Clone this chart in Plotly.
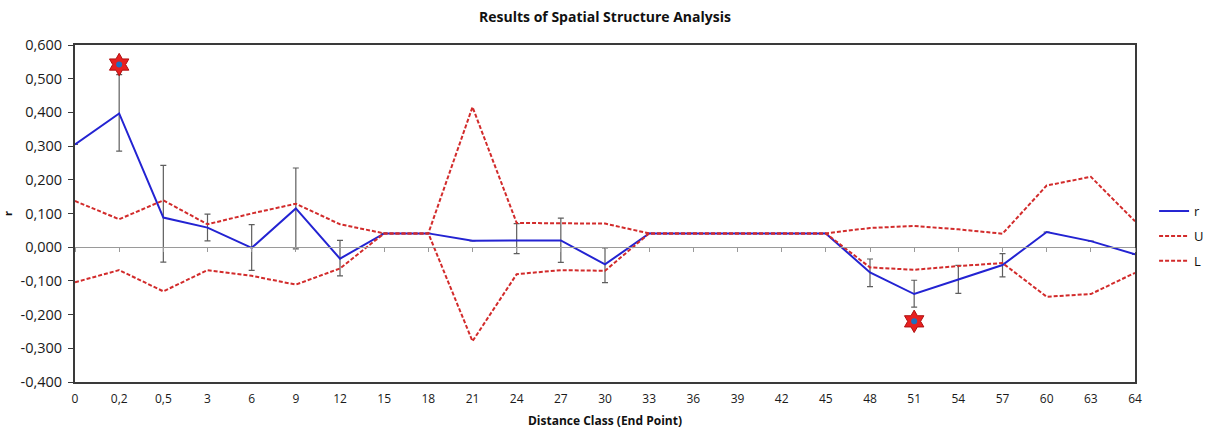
import plotly.graph_objects as go

# Distance classes (end points) along the x axis
distance_classes = ["0", "0,2", "0,5", "3", "6", "9", "12", "15", "18", "21", "24", "27",
                    "30", "33", "36", "39", "42", "45", "48", "51", "54", "57", "60", "63", "64"]

# Correlation coefficient r per distance class
r_values = [0.305, 0.397, 0.088, 0.058, -0.002, 0.115, -0.034, 0.041, 0.041, 0.019, 0.020, 0.020,
            -0.051, 0.041, 0.041, 0.041, 0.041, 0.041, -0.075, -0.139, -0.096, -0.053, 0.045, 0.018, -0.021]

# Upper (U) and lower (L) confidence limits
u_values = [0.137, 0.083, 0.139, 0.068, 0.100, 0.129, 0.068, 0.041, 0.041, 0.416, 0.072, 0.072,
            0.070, 0.041, 0.041, 0.041, 0.041, 0.041, 0.057, 0.063, 0.053, 0.040, 0.183, 0.209, 0.077]
l_values = [-0.104, -0.068, -0.131, -0.068, -0.085, -0.111, -0.063, 0.041, 0.041, -0.279, -0.080, -0.068,
            -0.070, 0.041, 0.041, 0.041, 0.041, 0.041, -0.060, -0.067, -0.056, -0.047, -0.147, -0.139, -0.076]

# Bootstrap error bounds around r (None where no bar is drawn)
err_high = [None, 0.512, 0.243, 0.098, 0.067, 0.235, 0.020, None, None, None, 0.070, 0.086,
            -0.002, None, None, None, None, None, -0.035, -0.098, -0.054, -0.019, None, None, None]
err_low = [None, 0.285, -0.044, 0.019, -0.069, -0.005, -0.085, None, None, None, -0.019, -0.045,
           -0.105, None, None, None, None, None, -0.117, -0.178, -0.137, -0.088, None, None, None]

# Significance markers
sig_values = [None, 0.542, None, None, None, None, None, None, None, None, None, None,
              None, None, None, None, None, None, None, -0.220, None, None, None, None, None]

# Y axis ticks
y_tick_values = [-0.4, -0.3, -0.2, -0.1, 0.0, 0.1, 0.2, 0.3, 0.4, 0.5, 0.6]
y_tick_labels = ["-0,400", "-0,300", "-0,200", "-0,100", "0,000", "0,100",
                 "0,200", "0,300", "0,400", "0,500", "0,600"]

Y_MIN, Y_MAX = -0.4, 0.6

err_plus = [None if h is None else h - r for h, r in zip(err_high, r_values)]
err_minus = [None if lo is None else r - lo for lo, r in zip(err_low, r_values)]

FONT = "Open Sans"
RED = "#D22B2B"

fig = go.Figure()

fig.add_trace(go.Scatter(
    x=distance_classes, y=r_values, name="r", mode="lines",
    line=dict(color="#2323D2", width=2),
    error_y=dict(type="data", symmetric=False, array=err_plus, arrayminus=err_minus,
                 color="#5E5E5E", thickness=1.2, width=3),
    legendgroup="r",
))
fig.add_trace(go.Scatter(
    x=distance_classes, y=u_values, name="U", mode="lines",
    line=dict(color=RED, width=2, dash="4px,2px"), legendgroup="U",
))
fig.add_trace(go.Scatter(
    x=distance_classes, y=l_values, name="L", mode="lines",
    line=dict(color=RED, width=2, dash="4px,2px"), legendgroup="L",
))

# Significance stars: red star with a blue centre
fig.add_trace(go.Scatter(
    x=distance_classes, y=sig_values, mode="markers", showlegend=False, hoverinfo="skip",
    marker=dict(symbol="hexagram", size=17, color="#E82020", line=dict(color="#B01010", width=1)),
))
fig.add_trace(go.Scatter(
    x=distance_classes, y=sig_values, mode="markers", showlegend=False, hoverinfo="skip",
    marker=dict(symbol="circle", size=6, color="#1E6FC0"),
))

# Helper trace that carries the axis drawn through y = 0
fig.add_trace(go.Scatter(
    x=distance_classes, y=[None] * len(distance_classes), xaxis="x2",
    showlegend=False, hoverinfo="skip", mode="lines",
))

zero_pos = (0 - Y_MIN) / (Y_MAX - Y_MIN)

fig.update_layout(
    width=1210, height=430,
    margin=dict(l=75, r=75, t=45, b=48, autoexpand=False),
    paper_bgcolor="white", plot_bgcolor="white",
    separators=",.",
    font=dict(family=FONT, size=12, color="#1A1A1A"),
    title=dict(text="<b>Results of Spatial Structure Analysis</b>", x=0.5, xanchor="center",
               y=1 - 17 / 430, yanchor="middle", font=dict(family=FONT, size=14, color="#111")),
    showlegend=True,
    legend=dict(x=1.018, xanchor="left", y=0.433, yanchor="middle",
                font=dict(family=FONT, size=13, color="#111"),
                traceorder="grouped", tracegroupgap=5, bgcolor="rgba(0,0,0,0)"),
    xaxis=dict(
        type="category", categoryorder="array", categoryarray=distance_classes,
        range=[0, len(distance_classes) - 1],
        showline=True, linecolor="#3A3A3A", linewidth=2, mirror=True,
        ticks="", showgrid=False, zeroline=False, ticklabelstandoff=5,
        tickfont=dict(family=FONT, size=12, color="#1A1A1A"),
        title=dict(text="<b>Distance Class (End Point)</b>", standoff=10,
                   font=dict(family=FONT, size=12, color="#111")),
    ),
    xaxis2=dict(
        type="category", categoryorder="array", categoryarray=distance_classes,
        range=[0, len(distance_classes) - 1],
        overlaying="x", anchor="free", position=zero_pos, side="bottom",
        showline=True, linecolor="#9A9A9A", linewidth=1,
        ticks="outside", ticklen=4, tickcolor="#9A9A9A", tickwidth=1,
        showticklabels=False, showgrid=False, zeroline=False,
    ),
    yaxis=dict(
        range=[Y_MIN, Y_MAX], tickvals=y_tick_values, ticktext=y_tick_labels,
        showline=True, linecolor="#3A3A3A", linewidth=2, mirror=True,
        ticks="outside", ticklen=5, tickcolor="#3A3A3A", tickwidth=1,
        showgrid=False, zeroline=False, ticklabelstandoff=3,
        tickfont=dict(family=FONT, size=14.5, color="#1A1A1A"),
        title=dict(text="<b>r</b>", standoff=8, font=dict(family=FONT, size=11, color="#111")),
    ),
)

fig.write_html("out.html")
